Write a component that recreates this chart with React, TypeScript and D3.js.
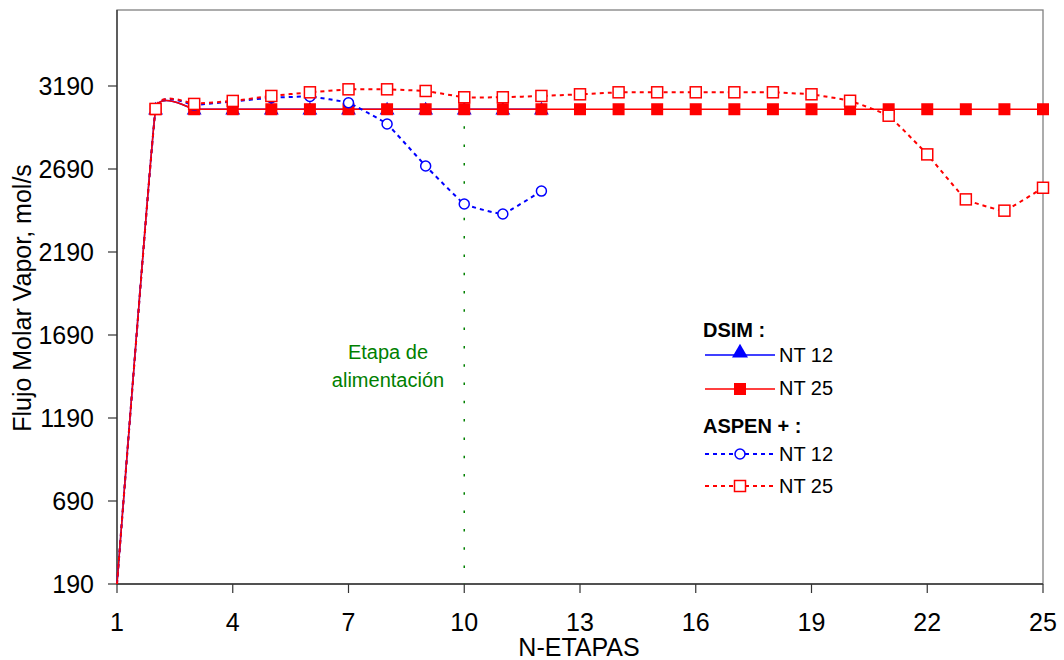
import React, { useEffect, useRef } from "react";
import * as d3 from "d3";

const stagesNT12 = [1, 2, 3, 4, 5, 6, 7, 8, 9, 10, 11, 12];
const stagesNT25 = [1, 2, 3, 4, 5, 6, 7, 8, 9, 10, 11, 12, 13, 14, 15, 16, 17, 18, 19, 20, 21, 22, 23, 24, 25];

const dsimNT12 = [190, 3050, 3050, 3050, 3050, 3050, 3050, 3050, 3050, 3050, 3050, 3050];
const dsimNT25 = [190, 3050, 3050, 3050, 3050, 3050, 3050, 3050, 3050, 3050, 3050, 3050, 3050, 3050, 3050, 3050, 3050, 3050, 3050, 3050, 3050, 3050, 3050, 3050, 3050];
const aspenNT12 = [190, 3052, 3075, 3097, 3119, 3127, 3089, 2961, 2708, 2479, 2419, 2557];
const aspenNT25 = [190, 3052, 3082, 3100, 3130, 3152, 3170, 3170, 3160, 3122, 3122, 3130, 3140, 3152, 3152, 3152, 3152, 3152, 3140, 3101, 3011, 2778, 2507, 2439, 2577];

const xTicks = [1, 4, 7, 10, 13, 16, 19, 22, 25];
const yTicks = [190, 690, 1190, 1690, 2190, 2690, 3190];
const feedStage = 10;

const W = 1064;
const H = 660;
const M = { left: 117, right: 1043, top: 10, bottom: 584 };
const FONT = "'Liberation Sans', Arial, sans-serif";

export default function App() {
  const ref = useRef<SVGSVGElement>(null);

  useEffect(() => {
    const svg = d3.select(ref.current);
    svg.selectAll("*").remove();

    const x = d3.scaleLinear().domain([1, 25]).range([M.left, M.right]);
    const y = d3.scaleLinear().domain([190, 190 + (M.bottom - M.top) * 500 / 83]).range([M.bottom, M.top]);

    // frame
    svg.append("rect").attr("x", M.left).attr("y", M.top).attr("width", M.right - M.left).attr("height", M.bottom - M.top)
      .attr("fill", "white").attr("stroke", "#808080").attr("stroke-width", 1.3);

    // axes
    svg.append("line").attr("x1", M.left).attr("x2", M.left).attr("y1", M.top).attr("y2", M.bottom).attr("stroke", "#333").attr("stroke-width", 1.3);
    svg.append("line").attr("x1", M.left).attr("x2", M.right).attr("y1", M.bottom).attr("y2", M.bottom).attr("stroke", "#333").attr("stroke-width", 1.3);

    yTicks.forEach((t) => {
      svg.append("line").attr("x1", M.left - 9).attr("x2", M.left).attr("y1", y(t)).attr("y2", y(t)).attr("stroke", "#333").attr("stroke-width", 1.2);
      svg.append("text").attr("x", 94).attr("y", y(t)).attr("dy", "0.36em").attr("text-anchor", "end")
        .attr("font-family", FONT).attr("font-size", 25).attr("fill", "#000").text(String(t));
    });
    xTicks.forEach((t) => {
      svg.append("line").attr("x1", x(t)).attr("x2", x(t)).attr("y1", M.bottom).attr("y2", M.bottom + 9).attr("stroke", "#333").attr("stroke-width", 1.2);
      svg.append("text").attr("x", x(t)).attr("y", 631).attr("text-anchor", "middle")
        .attr("font-family", FONT).attr("font-size", 25).attr("fill", "#000").text(String(t));
    });

    svg.append("text").attr("x", 579).attr("y", 656).attr("text-anchor", "middle")
      .attr("font-family", FONT).attr("font-size", 25).text("N-ETAPAS");
    svg.append("text").attr("transform", `translate(31,298) rotate(-90)`).attr("text-anchor", "middle")
      .attr("font-family", FONT).attr("font-size", 25).text("Flujo Molar Vapor, mol/s");

    // feed stage line
    svg.append("line").attr("x1", x(feedStage)).attr("x2", x(feedStage)).attr("y1", 108).attr("y2", M.bottom)
      .attr("stroke", "#008000").attr("stroke-width", 1.5).attr("stroke-dasharray", "2.5,15.8");
    const ft = svg.append("text").attr("text-anchor", "middle").attr("font-family", FONT).attr("font-size", 20).attr("fill", "#008000");
    ft.append("tspan").attr("x", 388).attr("y", 359).text("Etapa de");
    ft.append("tspan").attr("x", 388).attr("y", 387).text("alimentación");

    const line = d3.line<[number, number]>().x((d) => x(d[0])).y((d) => y(d[1])).curve(d3.curveCardinal.tension(0.75));
    const pts = (xs: number[], vs: number[]) => xs.map((s, i) => [s, vs[i]] as [number, number]);

    const tri = d3.symbol().type(d3.symbolTriangle).size(95);

    // DSIM NT12
    svg.append("path").attr("d", line(pts(stagesNT12, dsimNT12))).attr("fill", "none").attr("stroke", "#0000FF").attr("stroke-width", 1.5);
    stagesNT12.slice(1).forEach((s, i) => {
      svg.append("path").attr("d", tri()).attr("transform", `translate(${x(s)},${y(dsimNT12[i + 1]) + 1})`).attr("fill", "#0000FF");
    });
    // DSIM NT25
    svg.append("path").attr("d", line(pts(stagesNT25, dsimNT25))).attr("fill", "none").attr("stroke", "#FF0000").attr("stroke-width", 1.5);
    stagesNT25.slice(1).forEach((s, i) => {
      svg.append("rect").attr("x", x(s) - 6).attr("y", y(dsimNT25[i + 1]) - 6).attr("width", 12).attr("height", 12).attr("fill", "#FF0000");
    });
    // ASPEN NT12
    svg.append("path").attr("d", line(pts(stagesNT12, aspenNT12))).attr("fill", "none").attr("stroke", "#0000FF").attr("stroke-width", 2).attr("stroke-dasharray", "4,4");
    stagesNT12.slice(1).forEach((s, i) => {
      svg.append("circle").attr("cx", x(s)).attr("cy", y(aspenNT12[i + 1])).attr("r", 5).attr("fill", "white").attr("stroke", "#0000FF").attr("stroke-width", 1.5);
    });
    // ASPEN NT25
    svg.append("path").attr("d", line(pts(stagesNT25, aspenNT25))).attr("fill", "none").attr("stroke", "#FF0000").attr("stroke-width", 2).attr("stroke-dasharray", "4,4");
    stagesNT25.slice(1).forEach((s, i) => {
      svg.append("rect").attr("x", x(s) - 5.5).attr("y", y(aspenNT25[i + 1]) - 5.5).attr("width", 11).attr("height", 11).attr("fill", "white").attr("stroke", "#FF0000").attr("stroke-width", 1.5);
    });

    // legend
    const lg = svg.append("g");
    const lx1 = 705, lx2 = 775, mx = 740, tx = 779;
    lg.append("text").attr("x", 703).attr("y", 337).attr("font-family", FONT).attr("font-size", 20).attr("font-weight", "bold").text("DSIM :");
    lg.append("line").attr("x1", lx1).attr("x2", lx2).attr("y1", 355).attr("y2", 355).attr("stroke", "#0000FF").attr("stroke-width", 1.3);
    lg.append("path").attr("d", d3.symbol().type(d3.symbolTriangle).size(110)()).attr("transform", `translate(${mx},353)`).attr("fill", "#0000FF");
    lg.append("text").attr("x", tx).attr("y", 362).attr("font-family", FONT).attr("font-size", 20).text("NT 12");
    lg.append("line").attr("x1", lx1).attr("x2", lx2).attr("y1", 389).attr("y2", 389).attr("stroke", "#FF0000").attr("stroke-width", 1.3);
    lg.append("rect").attr("x", mx - 6).attr("y", 383).attr("width", 12).attr("height", 12).attr("fill", "#FF0000");
    lg.append("text").attr("x", tx).attr("y", 395).attr("font-family", FONT).attr("font-size", 20).text("NT 25");

    lg.append("text").attr("x", 703).attr("y", 433).attr("font-family", FONT).attr("font-size", 20).attr("font-weight", "bold").text("ASPEN + :");
    lg.append("line").attr("x1", lx1).attr("x2", lx2).attr("y1", 454).attr("y2", 454).attr("stroke", "#0000FF").attr("stroke-width", 2).attr("stroke-dasharray", "4,4");
    lg.append("circle").attr("cx", mx).attr("cy", 454).attr("r", 5).attr("fill", "white").attr("stroke", "#0000FF").attr("stroke-width", 1.5);
    lg.append("text").attr("x", tx).attr("y", 461).attr("font-family", FONT).attr("font-size", 20).text("NT 12");
    lg.append("line").attr("x1", lx1).attr("x2", lx2).attr("y1", 486).attr("y2", 486).attr("stroke", "#FF0000").attr("stroke-width", 2).attr("stroke-dasharray", "4,4");
    lg.append("rect").attr("x", mx - 5.5).attr("y", 480.5).attr("width", 11).attr("height", 11).attr("fill", "white").attr("stroke", "#FF0000").attr("stroke-width", 1.5);
    lg.append("text").attr("x", tx).attr("y", 493).attr("font-family", FONT).attr("font-size", 20).text("NT 25");
  }, []);

  return (
    <svg ref={ref} width={W} height={H} style={{ position: "absolute", left: 0, top: 0, background: "white" }} />
  );
}
